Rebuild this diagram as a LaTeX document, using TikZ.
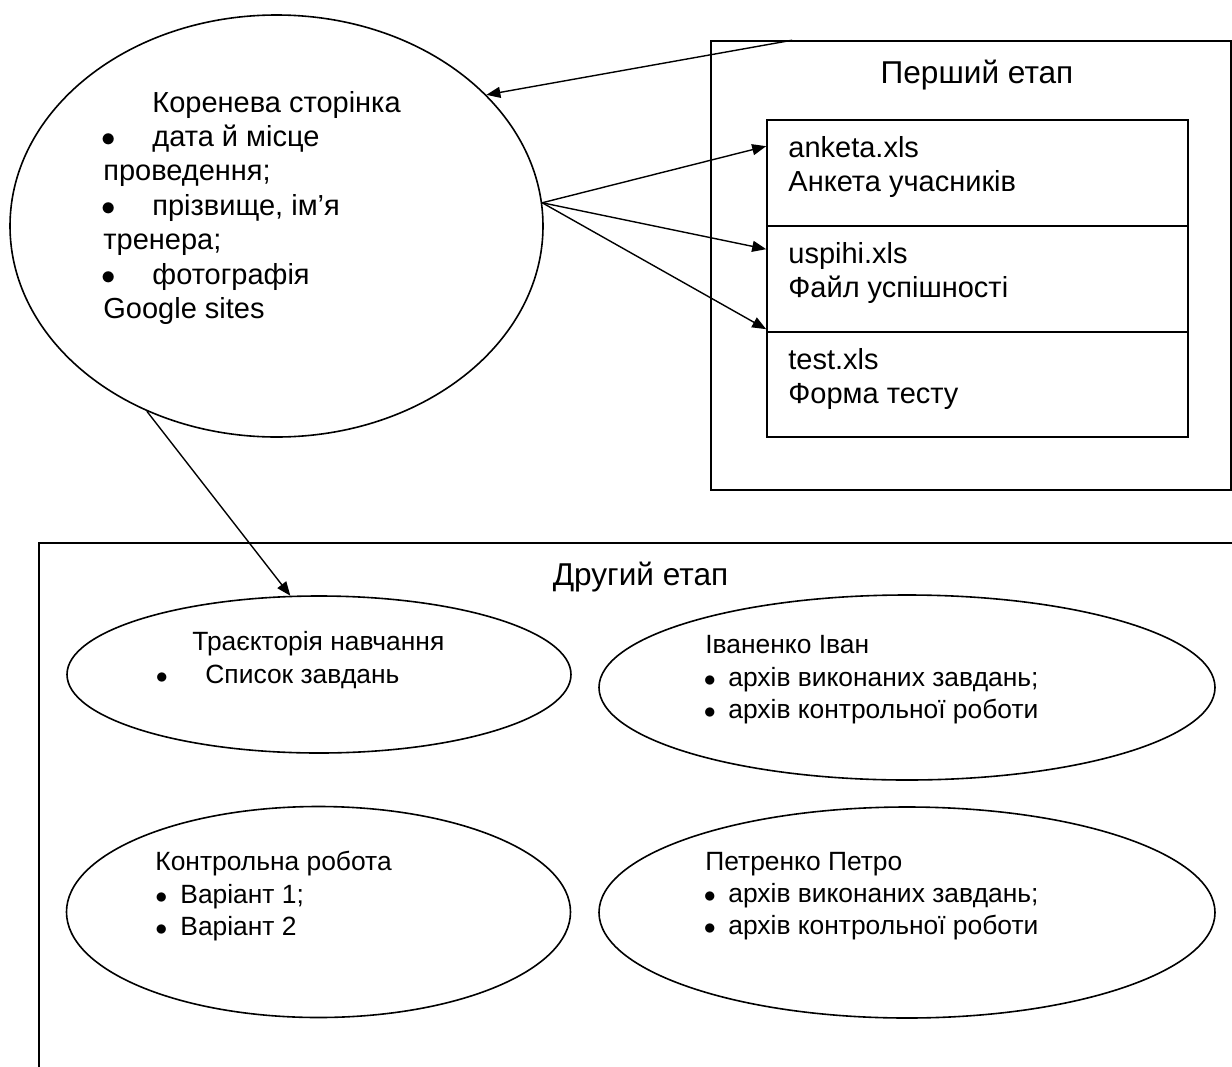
\documentclass[tikz,border=0pt]{standalone}
\usepackage{fontspec}
\setmainfont{Liberation Sans}
\usetikzlibrary{shapes.geometric,arrows.meta}
\begin{document}
\begin{tikzpicture}[x=0.5pt,y=-0.5pt,
	stagebox/.style={draw, line width=0.8pt, inner sep=0pt},
	cell/.style={draw, line width=0.8pt, inner sep=0pt, minimum width=210.5pt},
	page/.style={draw, ellipse, line width=0.8pt, inner sep=0pt},
	link/.style={-{Triangle[length=7pt,width=5.5pt]}, line width=0.7pt},
	txtbig/.style={anchor=base west, inner sep=0pt, font=\myfontbody},
	txtsmall/.style={anchor=base west, inner sep=0pt, font=\myfontsmall},
	head/.style={anchor=base, inner sep=0pt, font=\myfonthead}]
		\newcommand{\myfontbody}{\fontsize{14.5}{17}\selectfont}
		\newcommand{\myfontsmall}{\fontsize{13.2}{16}\selectfont}
		\newcommand{\myfonthead}{\fontsize{15.8}{19}\selectfont}
		\newcommand{\mybullet}[1]{\makebox[#1][l]{$\bullet$}}
		\clip (0,0) rectangle (1232,1066);
		%Root page
		\node[page, minimum width=266.5pt, minimum height=211pt] (root) at (276.5,226) {};
		\node[txtbig] (root1) at (152,112) {Коренева сторінка};
		\node[txtbig] (root2) at (101,146.4) {\mybullet{25.5pt}дата й місце};
		\node[txtbig] (root3) at (103,180.8) {проведення;};
		\node[txtbig] (root4) at (101,215.2) {\mybullet{25.5pt}прізвище, ім’я};
		\node[txtbig] (root5) at (103,249.6) {тренера;};
		\node[txtbig] (root6) at (101,284) {\mybullet{25.5pt}фотографія};
		\node[txtbig] (root7) at (103,318.4) {Google sites};
		%First stage
		\node[stagebox, minimum width=260pt, minimum height=224.5pt] (stage1) at (971,265.5) {};
		\node[head] (stage1title) at (977,83) {Перший етап};
		\node[cell, minimum height=53pt] (anketa) at (977.5,173) {};
		\node[cell, minimum height=53pt] (uspihi) at (977.5,279) {};
		\node[cell, minimum height=52.5pt] (test) at (977.5,384.5) {};
		\node[txtbig] (anketa1) at (788,157) {anketa.xls};
		\node[txtbig] (anketa2) at (788,191.5) {Анкета учасників};
		\node[txtbig] (uspihi1) at (788,263) {uspihi.xls};
		\node[txtbig] (uspihi2) at (788,297.5) {Файл успішності};
		\node[txtbig] (test1) at (788,369) {test.xls};
		\node[txtbig] (test2) at (788,403.5) {Форма тесту};
		%Second stage
		\node[stagebox, minimum width=610.5pt, minimum height=278.5pt] (stage2) at (649.5,821.5) {};
		\node[head] (stage2title) at (640.5,585) {Другий етап};
		\node[page, minimum width=252pt, minimum height=78.5pt] (traj) at (319,674.5) {};
		\node[page, minimum width=308pt, minimum height=92.5pt] (ivan) at (907,687.5) {};
		\node[page, minimum width=252pt, minimum height=105.5pt] (kontr) at (318.5,912) {};
		\node[page, minimum width=308pt, minimum height=105.5pt] (petro) at (907,912.5) {};
		\node[txtsmall] (traj1) at (192,650) {Траєкторія навчання};
		\node[txtsmall] (traj2) at (155.5,683) {\mybullet{24.75pt}Список завдань};
		\node[txtsmall] (ivan1) at (705,653) {Іваненко Іван};
		\node[txtsmall] (ivan2) at (703.5,686) {\mybullet{12.25pt}архів виконаних завдань;};
		\node[txtsmall] (ivan3) at (703.5,718) {\mybullet{12.25pt}архів контрольної роботи};
		\node[txtsmall] (kontr1) at (155,870) {Контрольна робота};
		\node[txtsmall] (kontr2) at (155,903) {\mybullet{12.5pt}Варіант 1;};
		\node[txtsmall] (kontr3) at (155,935) {\mybullet{12.5pt}Варіант 2};
		\node[txtsmall] (petro1) at (705,870) {Петренко Петро};
		\node[txtsmall] (petro2) at (703.5,902) {\mybullet{12.25pt}архів виконаних завдань;};
		\node[txtsmall] (petro3) at (703.5,934) {\mybullet{12.25pt}архів контрольної роботи};
		%Arrows
		\draw[link] ([xshift=41pt]stage1.north west) -- (root.32.4);
		\draw[link] (root.5.6) -- ([yshift=-13.5pt]anketa.north west);
		\draw[link] (root.5.6) -- ([yshift=-12pt]uspihi.north west);
		\draw[link] (root.5.6) -- ([yshift=1pt]test.north west);
		\draw[link] (root.235.9) -- (traj.110);
\end{tikzpicture}
\end{document}
